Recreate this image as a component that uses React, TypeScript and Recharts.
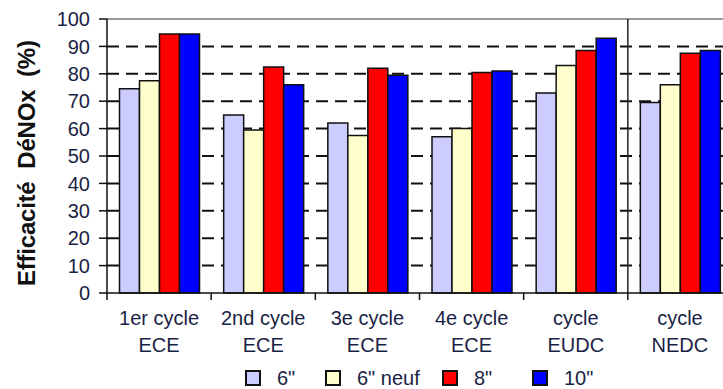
import { BarChart, Bar, XAxis, YAxis, CartesianGrid, ReferenceLine, Label } from 'recharts'

const categories = ['1er cycle\nECE', '2nd cycle\nECE', '3e cycle\nECE', '4e cycle\nECE', 'cycle\nEUDC', 'cycle\nNEDC']
const s6 = [74.5, 65, 62, 57, 73, 69.5]
const s6neuf = [77.5, 59.5, 57.5, 60, 83, 76]
const s8 = [94.5, 82.5, 82, 80.5, 88.5, 87.5]
const s10 = [94.5, 76, 79.5, 81, 93, 88.5]
const yTicks = [0, 10, 20, 30, 40, 50, 60, 70, 80, 90, 100]
const gridValues = [10, 20, 30, 40, 50, 60, 70, 80, 90]

const seriesNames = ['6"', '6" neuf', '8"', '10"']
const seriesKeys = ['s6', 's6neuf', 's8', 's10']
const colors = ['#ccccff', '#ffffcc', '#ff0000', '#0000ff']

const data = categories.map((c, i) => ({ name: c, s6: s6[i], s6neuf: s6neuf[i], s8: s8[i], s10: s10[i] }))

const textColor = '#1a1f45'
const font = '"Liberation Sans", Arial, sans-serif'

const CategoryTick = ({ x, y, payload }: any) => {
  const lines = String(payload.value).split('\n')
  const left = x - (payload.offset || 0)
  return (
    <g>
      <line x1={left} y1={y} x2={left} y2={y + 7} stroke="#111" strokeWidth={1.5} />
      {lines.map((l, i) => (
        <text key={i} x={x} y={y + 32 + i * 27} textAnchor="middle" fontSize={20} fill={textColor} fontFamily={font}>
          {l}
        </text>
      ))}
    </g>
  )
}

const YTitle = ({ viewBox }: any) => {
  const cy = viewBox.y + viewBox.height / 2 + 7
  return (
    <text x={26} y={cy} transform={`rotate(-90, 26, ${cy})`} textAnchor="middle" dominantBaseline="central"
      fontSize={24} fontWeight="bold" fill="#111" fontFamily={font} textLength={246} lengthAdjust="spacing">
      {'Efficacité\u00a0\u00a0DéNOx\u00a0\u00a0(%)'}
    </text>
  )
}

const legendLeft = [245, 325, 442, 532]

export default function App() {
  return (
    <div style={{ position: 'fixed', left: 0, top: 0, width: 723, height: 389, overflow: 'hidden', background: '#fff', fontFamily: font }}>
      <BarChart width={740} height={389} data={data} margin={{ top: 19, right: 8, left: 0, bottom: 36 }}
        barCategoryGap="12%" barGap={0}>
        <CartesianGrid vertical={false} horizontalValues={gridValues} stroke="#111" strokeWidth={2} strokeDasharray="12 7" />
        <XAxis dataKey="name" height={60} interval={0} tickLine={false} tickSize={0} tickMargin={0}
          axisLine={{ stroke: '#111', strokeWidth: 1.5 }} tick={<CategoryTick />} />
        <YAxis width={107} domain={[0, 100]} ticks={yTicks} interval={0} tickSize={8} tickMargin={9}
          axisLine={{ stroke: '#111', strokeWidth: 1.5 }} tickLine={{ stroke: '#111', strokeWidth: 1.5 }}
          tick={{ fontSize: 20, fill: textColor, fontFamily: font }}>
          <Label content={<YTitle />} />
        </YAxis>
        <ReferenceLine y={100} stroke="#9a9a9a" strokeWidth={2} />
        <ReferenceLine x={categories[5]} position="start" stroke="#222" strokeWidth={1.5} />
        {seriesKeys.map((k, i) => (
          <Bar key={k} dataKey={k} name={seriesNames[i]} fill={colors[i]} stroke="#111" strokeWidth={1.5} isAnimationActive={false} />
        ))}
      </BarChart>
      {seriesNames.map((n, i) => (
        <div key={n} style={{ position: 'absolute', left: legendLeft[i], top: 366, display: 'flex', alignItems: 'center', height: 24, lineHeight: '24px' }}>
          <div style={{ width: 12, height: 12, background: colors[i], border: '2px solid #111' }} />
          <span style={{ marginLeft: 16, fontSize: 20, color: textColor, whiteSpace: 'pre' }}>{n}</span>
        </div>
      ))}
    </div>
  )
}
